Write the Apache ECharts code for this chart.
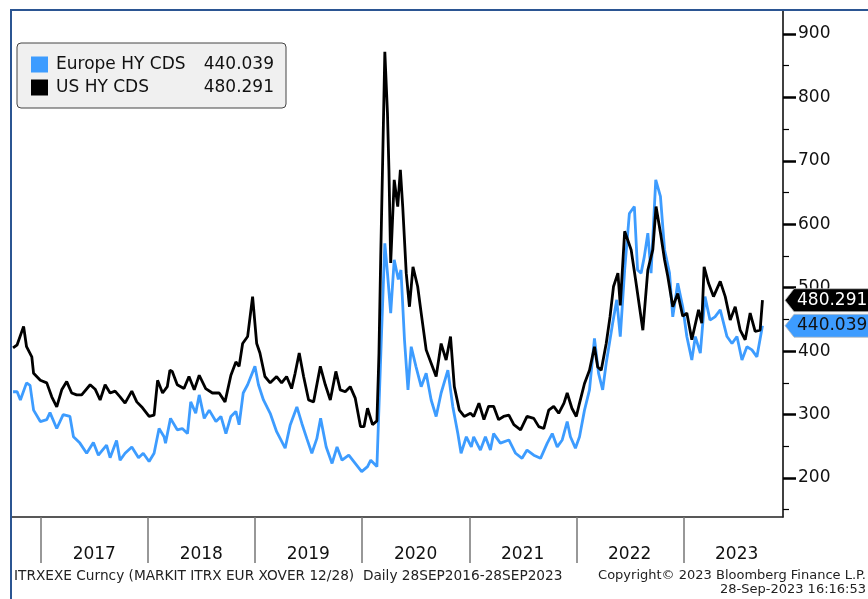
<!DOCTYPE html>
<html><head><meta charset="utf-8">
<script src="https://cdn.jsdelivr.net/npm/echarts@6/dist/echarts.min.js"></script>
<style>html,body{margin:0;padding:0;background:#fff;}#c{width:868px;height:599px;}</style>
</head><body><div id="c"></div>
<script>
// ---- data ----
const seriesNames = ['Europe HY CDS', 'US HY CDS'];
const lastValues = ['440.039', '480.291'];

const usDates = ['2016-09-28','2016-10-12','2016-11-03','2016-11-13','2016-12-01','2016-12-07','2016-12-30',
'2017-01-21','2017-02-07','2017-02-24','2017-03-13','2017-03-30','2017-04-16','2017-05-03','2017-05-20','2017-06-18',
'2017-07-05','2017-07-22','2017-08-08','2017-08-25','2017-09-11','2017-09-28','2017-10-15','2017-11-07','2017-11-24','2017-12-11',
'2018-01-05','2018-01-22','2018-02-03','2018-02-20','2018-03-08','2018-03-17','2018-03-25','2018-04-11','2018-05-04','2018-05-21',
'2018-06-08','2018-06-25','2018-07-17','2018-08-09','2018-09-01','2018-09-21','2018-10-11','2018-10-28','2018-11-08','2018-11-20',
'2018-12-07','2018-12-24','2019-01-07','2019-01-18','2019-02-04','2019-02-22','2019-03-16','2019-04-02','2019-04-19','2019-05-06',
'2019-05-18','2019-06-01','2019-06-16','2019-07-03','2019-07-20','2019-08-12','2019-08-29','2019-09-15','2019-10-04','2019-10-19',
'2019-11-05','2019-11-22','2019-12-09','2019-12-27','2020-01-08','2020-01-20','2020-02-06','2020-02-21','2020-02-26','2020-02-28',
'2020-03-05','2020-03-11','2020-03-19','2020-03-28','2020-04-02','2020-04-08','2020-04-20','2020-05-02','2020-05-11','2020-05-19',
'2020-05-31','2020-06-11','2020-06-23','2020-07-09','2020-07-21','2020-08-07','2020-08-24','2020-09-10','2020-09-27','2020-10-14',
'2020-10-29','2020-11-11','2020-11-28','2020-12-15','2021-01-05','2021-01-16','2021-02-03','2021-02-20','2021-03-08','2021-03-25',
'2021-04-11','2021-04-28','2021-05-16','2021-06-02','2021-06-25','2021-07-17','2021-08-09','2021-08-26','2021-09-12','2021-09-29',
'2021-10-16','2021-11-02','2021-11-20','2021-12-01','2021-12-17','2022-01-01','2022-01-12','2022-01-29','2022-02-15','2022-03-04',
'2022-03-15','2022-03-27','2022-04-13','2022-04-26','2022-05-08','2022-05-23','2022-05-31','2022-06-15','2022-06-21','2022-07-07',
'2022-07-24','2022-08-16','2022-09-02','2022-09-19','2022-09-30','2022-10-17','2022-10-29','2022-11-09','2022-11-26','2022-12-13',
'2022-12-30','2023-01-13','2023-01-30','2023-02-22','2023-03-05','2023-03-13','2023-03-28','2023-04-14','2023-05-07','2023-05-24',
'2023-06-10','2023-06-27','2023-07-14','2023-07-31','2023-08-17','2023-09-03','2023-09-20','2023-09-28'];
const usValues = [405,410,439,407,391,365,354,
350,328,312,339,352,334,331,331,347,
340,323,347,334,337,328,318,337,320,312,
297,299,354,334,344,370,368,347,341,360,
339,362,341,334,334,320,362,383,376,412,
423,486,412,397,360,350,360,350,360,341,
365,397,360,323,320,376,347,323,368,339,
336,344,326,281,281,310,284,290,365,397,
549,686,872,775,686,539,670,628,686,628,
523,470,533,502,460,402,381,360,412,386,
423,344,307,297,302,297,318,292,313,313,
292,297,299,284,276,297,294,281,278,307,
313,302,318,334,310,297,318,349,370,407,
375,370,412,454,502,523,472,589,586,560,
507,433,528,560,628,581,544,518,470,491,
455,460,418,465,444,533,507,486,510,486,
449,470,433,418,460,431,433,480.291];

const euDates = ['2016-09-28','2016-10-12','2016-10-23','2016-11-13','2016-11-25','2016-12-07','2016-12-30',
'2017-01-21','2017-02-01','2017-02-24','2017-03-18','2017-04-10','2017-04-22','2017-05-14','2017-06-06','2017-06-29',
'2017-07-16','2017-08-13','2017-08-25','2017-09-16','2017-09-28','2017-10-15','2017-11-07','2017-11-30','2017-12-16',
'2018-01-05','2018-01-22','2018-02-08','2018-02-25','2018-03-02','2018-03-19','2018-04-11','2018-04-28','2018-05-16','2018-05-27',
'2018-06-13','2018-06-25','2018-07-12','2018-07-29','2018-08-21','2018-09-07','2018-09-24','2018-10-11','2018-10-28','2018-11-08',
'2018-11-22','2018-12-07','2019-01-01','2019-01-13','2019-01-30','2019-02-22','2019-03-16','2019-04-14','2019-05-01','2019-05-24',
'2019-06-10','2019-06-27','2019-07-14','2019-07-31','2019-08-13','2019-09-01','2019-09-21','2019-10-08','2019-10-25','2019-11-17',
'2019-12-09','2019-12-31','2020-01-20','2020-01-31','2020-02-21','2020-02-28','2020-03-07','2020-03-19','2020-03-28','2020-04-08',
'2020-04-20','2020-05-04','2020-05-13','2020-05-25','2020-06-06','2020-06-17','2020-07-03','2020-07-21','2020-08-07','2020-08-24',
'2020-09-10','2020-09-27','2020-10-20','2020-11-06','2020-11-23','2020-12-04','2020-12-22','2021-01-08','2021-01-16','2021-02-08',
'2021-02-25','2021-03-14','2021-03-25','2021-04-17','2021-05-16','2021-06-08','2021-06-30','2021-07-17','2021-08-09','2021-09-01',
'2021-09-24','2021-10-11','2021-10-28','2021-11-14','2021-12-01','2021-12-12','2021-12-29','2022-01-12','2022-01-29','2022-02-15',
'2022-03-04','2022-03-18','2022-04-01','2022-04-13','2022-05-05','2022-05-19','2022-05-31','2022-06-15','2022-07-01','2022-07-18',
'2022-07-29','2022-08-10','2022-08-21','2022-09-02','2022-09-13','2022-09-29','2022-10-15','2022-10-29','2022-11-15','2022-11-26',
'2022-12-13','2022-12-30','2023-01-13','2023-01-30','2023-02-11','2023-02-28','2023-03-16','2023-04-02','2023-04-19','2023-05-07',
'2023-05-30','2023-06-16','2023-07-03','2023-07-20','2023-08-06','2023-08-23','2023-09-09','2023-09-28'];
const euValues = [336,336,323,350,346,307,289,
292,303,278,300,297,265,255,239,256,
236,252,232,259,228,239,249,232,239,
226,239,278,265,255,294,276,278,270,320,
302,331,294,307,289,297,270,297,305,284,
334,347,376,347,323,302,273,247,283,312,
286,262,239,262,294,249,223,249,228,236,
223,210,218,228,218,312,418,570,523,460,
544,513,528,418,339,407,376,344,365,323,
297,334,370,312,270,239,265,249,265,244,
265,244,270,255,260,239,231,244,236,231,
255,270,249,260,289,265,247,265,307,339,
420,365,339,381,444,481,423,528,617,628,
528,523,549,586,523,670,644,560,523,454,
507,470,423,386,423,397,486,449,454,465,
423,412,423,386,407,402,391,440.039];

const yTickValues = [200, 300, 400, 500, 600, 700, 800, 900];
const yMinorTickValues = [150, 250, 350, 450, 550, 650, 750, 850];
const yearTickDates = ['2017-01-01','2018-01-01','2019-01-01','2020-01-01','2021-01-01','2022-01-01','2023-01-01'];
const yearLabelDates = ['2017-07-02','2018-07-02','2019-07-02','2020-07-02','2021-07-02','2022-07-02','2023-07-02'];
const footerLeft = 'ITRXEXE Curncy (MARKIT ITRX EUR XOVER 12/28)  Daily 28SEP2016-28SEP2023';
const footerRight1 = 'Copyright\u00A9 2023 Bloomberg Finance L.P.';
const footerRight2 = '28-Sep-2023 16:16:53';

// ---- build ----
const ts = d => new Date(d).getTime();
const xMin = ts('2016-09-21'), xMax = ts('2023-12-07');
const yMin = 138.5, yMax = 936.3;
const FONT = 'DejaVu Sans';
const BLUE = '#3d9cff';

const chart = echarts.init(document.getElementById('c'), null, {renderer: 'canvas'});
const option = {
  animation: false,
  backgroundColor: '#fff',
  grid: {left: 11, right: 85, top: 11, bottom: 82, outerBoundsMode: 'none'},
  xAxis: {
    type: 'value', min: xMin, max: xMax,
    splitLine: {show: false},
    axisLine: {show: true, lineStyle: {color: '#222', width: 1.5}},
    axisTick: {show: true, customValues: yearTickDates.map(ts), length: 46, lineStyle: {color: '#777', width: 1.5}},
    axisLabel: {show: true, customValues: yearLabelDates.map(ts), margin: 29,
      formatter: v => String(new Date(v).getUTCFullYear()),
      fontFamily: FONT, fontSize: 17, color: '#111'}
  },
  yAxis: [{
    type: 'value', position: 'right', min: yMin, max: yMax,
    splitLine: {show: false},
    axisLine: {show: true, lineStyle: {color: '#000', width: 1.5}},
    axisTick: {show: true, customValues: yTickValues, length: 13, lineStyle: {color: '#000', width: 2.5}},
    axisLabel: {show: true, customValues: yTickValues, margin: 15, fontFamily: FONT, fontSize: 17, color: '#111'}
  }, {
    type: 'value', position: 'right', min: yMin, max: yMax,
    splitLine: {show: false},
    axisLine: {show: false},
    axisTick: {show: true, customValues: yMinorTickValues, length: 6, lineStyle: {color: '#000', width: 1.2}},
    axisLabel: {show: false}
  }],
  legend: {
    left: 17, top: 43, orient: 'vertical',
    data: seriesNames,
    icon: 'rect', itemWidth: 17, itemHeight: 16, itemGap: 6,
    padding: [13, 12, 12, 14],
    backgroundColor: '#f0f0f0', borderColor: '#444', borderWidth: 1, borderRadius: 4,
    selectedMode: false,
    formatter: name => '{n|' + name + '}{v|' + lastValues[seriesNames.indexOf(name)] + '}',
    textStyle: {
      rich: {
        n: {fontFamily: FONT, fontSize: 17, color: '#111', width: 145, padding: [0, 0, 0, 3], lineHeight: 16},
        v: {fontFamily: FONT, fontSize: 17, color: '#111', width: 73, align: 'right', lineHeight: 16}
      }
    }
  },
  series: [{
    name: seriesNames[0], type: 'line', showSymbol: false, symbol: 'none',
    data: euDates.map((d, i) => [ts(d), euValues[i]]),
    lineStyle: {color: BLUE, width: 2.8}, itemStyle: {color: BLUE}, z: 2
  }, {
    name: seriesNames[1], type: 'line', showSymbol: false, symbol: 'none',
    data: usDates.map((d, i) => [ts(d), usValues[i]]),
    lineStyle: {color: '#000', width: 2.8}, itemStyle: {color: '#000'}, z: 3
  }]
};
chart.setOption(option);

const xr = chart.convertToPixel({xAxisIndex: 0}, xMax);
function tag(id, v, label, fill, txt) {
  const cy = chart.convertToPixel({yAxisIndex: 0}, v);
  return {
    type: 'group', id: id, z: 100, children: [
      {type: 'polygon', shape: {points: [[xr + 2, cy], [xr + 11, cy - 11.5], [870, cy - 11.5], [870, cy + 11.5], [xr + 11, cy + 11.5]]},
        style: {fill: fill, stroke: '#bbb', lineWidth: 0.8}, z: 100},
      {type: 'text', x: xr + 14, y: cy, z: 101,
        style: {text: label, fill: txt, font: '17px "' + FONT + '"', verticalAlign: 'middle', textAlign: 'left'}}
    ]
  };
}
chart.setOption({
  graphic: [
    {type: 'line', shape: {x1: 11, y1: 9, x2: 11, y2: 599}, style: {stroke: '#2b5592', lineWidth: 2}, z: 50},
    {type: 'line', shape: {x1: 10, y1: 10, x2: 868, y2: 10}, style: {stroke: '#2b5592', lineWidth: 2}, z: 50},
    {type: 'text', left: 14, top: 569, style: {text: footerLeft, font: '13.7px "' + FONT + '"', fill: '#222'}},
    {type: 'text', right: 2, top: 569, style: {text: footerRight1, font: '13px "' + FONT + '"', fill: '#222'}},
    {type: 'text', right: 2, top: 583, style: {text: footerRight2, font: '13px "' + FONT + '"', fill: '#222'}},
    tag('usTag', usValues[usValues.length - 1], lastValues[1], '#000', '#fff'),
    tag('euTag', euValues[euValues.length - 1], lastValues[0], BLUE, '#111')
  ]
});
</script>
</body></html>
